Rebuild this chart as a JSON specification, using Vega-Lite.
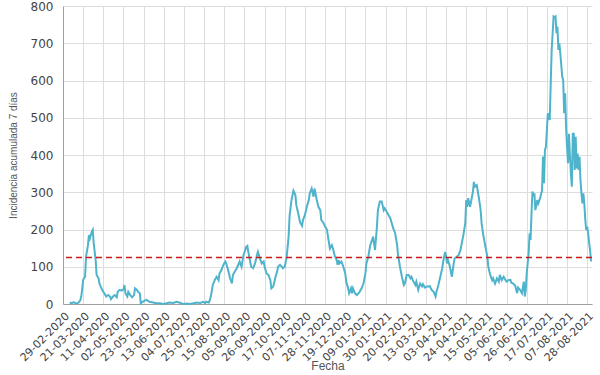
{
  "$schema": "https://vega.github.io/schema/vega-lite/v6.json",
  "width": 529,
  "height": 298,
  "autosize": {"type": "none"},
  "padding": {"left": 63, "top": 6, "right": 8, "bottom": 71},
  "background": "white",
  "config": {
    "view": {"stroke": null},
    "axis": {
      "labelFont": "DejaVu Sans",
      "labelColor": "#444444",
      "titleFont": "Liberation Sans",
      "titleFontWeight": "normal",
      "titleColor": "#555555",
      "gridColor": "#dddddd",
      "domainColor": "#a0a0a0",
      "ticks": false
    },
    "axisY": {
      "labelOverlap": false,
      "labelFontSize": 12,
      "labelPadding": 10,
      "titleFont": "Liberation Sans Narrow, Liberation Sans",
      "titleFontSize": 10,
      "titlePadding": 12
    }
  },
  "layer": [
    {
      "data": {
        "values": [
          {"fecha": "2020-03-07", "ia": 4}, {"fecha": "2020-03-09", "ia": 2}, {"fecha": "2020-03-11", "ia": 5}, {"fecha": "2020-03-13", "ia": 2},
          {"fecha": "2020-03-16", "ia": 3}, {"fecha": "2020-03-18", "ia": 10}, {"fecha": "2020-03-19", "ia": 20}, {"fecha": "2020-03-20", "ia": 40},
          {"fecha": "2020-03-21", "ia": 65}, {"fecha": "2020-03-23", "ia": 73}, {"fecha": "2020-03-24", "ia": 127}, {"fecha": "2020-03-26", "ia": 158},
          {"fecha": "2020-03-27", "ia": 185}, {"fecha": "2020-03-28", "ia": 176}, {"fecha": "2020-03-30", "ia": 194}, {"fecha": "2020-03-31", "ia": 199},
          {"fecha": "2020-04-01", "ia": 163}, {"fecha": "2020-04-03", "ia": 118}, {"fecha": "2020-04-04", "ia": 78}, {"fecha": "2020-04-06", "ia": 69},
          {"fecha": "2020-04-07", "ia": 55}, {"fecha": "2020-04-09", "ia": 42}, {"fecha": "2020-04-11", "ia": 33}, {"fecha": "2020-04-12", "ia": 29},
          {"fecha": "2020-04-14", "ia": 20}, {"fecha": "2020-04-16", "ia": 24}, {"fecha": "2020-04-18", "ia": 20}, {"fecha": "2020-04-19", "ia": 13},
          {"fecha": "2020-04-21", "ia": 20}, {"fecha": "2020-04-23", "ia": 24}, {"fecha": "2020-04-25", "ia": 18}, {"fecha": "2020-04-26", "ia": 33},
          {"fecha": "2020-04-28", "ia": 38}, {"fecha": "2020-04-30", "ia": 36}, {"fecha": "2020-05-02", "ia": 39}, {"fecha": "2020-05-03", "ia": 51},
          {"fecha": "2020-05-04", "ia": 29}, {"fecha": "2020-05-06", "ia": 20}, {"fecha": "2020-05-07", "ia": 33}, {"fecha": "2020-05-09", "ia": 24},
          {"fecha": "2020-05-11", "ia": 18}, {"fecha": "2020-05-13", "ia": 24}, {"fecha": "2020-05-14", "ia": 42}, {"fecha": "2020-05-16", "ia": 38},
          {"fecha": "2020-05-17", "ia": 33}, {"fecha": "2020-05-19", "ia": 29}, {"fecha": "2020-05-20", "ia": 2}, {"fecha": "2020-05-22", "ia": 6},
          {"fecha": "2020-05-24", "ia": 9}, {"fecha": "2020-05-26", "ia": 11}, {"fecha": "2020-05-28", "ia": 8}, {"fecha": "2020-05-29", "ia": 6},
          {"fecha": "2020-06-02", "ia": 4}, {"fecha": "2020-06-05", "ia": 2}, {"fecha": "2020-06-09", "ia": 2}, {"fecha": "2020-06-12", "ia": 0},
          {"fecha": "2020-06-16", "ia": 2}, {"fecha": "2020-06-19", "ia": 4}, {"fecha": "2020-06-23", "ia": 3}, {"fecha": "2020-06-26", "ia": 6},
          {"fecha": "2020-06-29", "ia": 4}, {"fecha": "2020-07-03", "ia": 0}, {"fecha": "2020-07-07", "ia": 1}, {"fecha": "2020-07-10", "ia": 0},
          {"fecha": "2020-07-14", "ia": 2}, {"fecha": "2020-07-17", "ia": 4}, {"fecha": "2020-07-21", "ia": 3}, {"fecha": "2020-07-24", "ia": 6},
          {"fecha": "2020-07-26", "ia": 2}, {"fecha": "2020-07-27", "ia": 6}, {"fecha": "2020-07-30", "ia": 4}, {"fecha": "2020-08-01", "ia": 20},
          {"fecha": "2020-08-03", "ia": 51}, {"fecha": "2020-08-05", "ia": 64}, {"fecha": "2020-08-07", "ia": 73}, {"fecha": "2020-08-09", "ia": 64},
          {"fecha": "2020-08-10", "ia": 82}, {"fecha": "2020-08-12", "ia": 91}, {"fecha": "2020-08-14", "ia": 105}, {"fecha": "2020-08-16", "ia": 114},
          {"fecha": "2020-08-17", "ia": 109}, {"fecha": "2020-08-19", "ia": 91}, {"fecha": "2020-08-21", "ia": 69}, {"fecha": "2020-08-23", "ia": 55},
          {"fecha": "2020-08-24", "ia": 78}, {"fecha": "2020-08-26", "ia": 87}, {"fecha": "2020-08-28", "ia": 96}, {"fecha": "2020-08-31", "ia": 114},
          {"fecha": "2020-09-02", "ia": 100}, {"fecha": "2020-09-04", "ia": 131}, {"fecha": "2020-09-07", "ia": 154}, {"fecha": "2020-09-08", "ia": 156},
          {"fecha": "2020-09-09", "ia": 140}, {"fecha": "2020-09-10", "ia": 127}, {"fecha": "2020-09-12", "ia": 100}, {"fecha": "2020-09-14", "ia": 96},
          {"fecha": "2020-09-16", "ia": 109}, {"fecha": "2020-09-18", "ia": 131}, {"fecha": "2020-09-19", "ia": 140}, {"fecha": "2020-09-21", "ia": 123},
          {"fecha": "2020-09-23", "ia": 109}, {"fecha": "2020-09-25", "ia": 114}, {"fecha": "2020-09-26", "ia": 100}, {"fecha": "2020-09-28", "ia": 82},
          {"fecha": "2020-09-30", "ia": 78}, {"fecha": "2020-10-02", "ia": 64}, {"fecha": "2020-10-03", "ia": 42}, {"fecha": "2020-10-05", "ia": 47},
          {"fecha": "2020-10-07", "ia": 69}, {"fecha": "2020-10-09", "ia": 87}, {"fecha": "2020-10-10", "ia": 100}, {"fecha": "2020-10-12", "ia": 105},
          {"fecha": "2020-10-14", "ia": 100}, {"fecha": "2020-10-15", "ia": 96}, {"fecha": "2020-10-17", "ia": 100}, {"fecha": "2020-10-19", "ia": 127},
          {"fecha": "2020-10-21", "ia": 181}, {"fecha": "2020-10-22", "ia": 236}, {"fecha": "2020-10-24", "ia": 279}, {"fecha": "2020-10-26", "ia": 304},
          {"fecha": "2020-10-28", "ia": 293}, {"fecha": "2020-10-29", "ia": 266}, {"fecha": "2020-10-31", "ia": 243}, {"fecha": "2020-11-02", "ia": 219},
          {"fecha": "2020-11-04", "ia": 210}, {"fecha": "2020-11-05", "ia": 226}, {"fecha": "2020-11-07", "ia": 239}, {"fecha": "2020-11-09", "ia": 261},
          {"fecha": "2020-11-11", "ia": 279}, {"fecha": "2020-11-12", "ia": 297}, {"fecha": "2020-11-14", "ia": 310}, {"fecha": "2020-11-16", "ia": 288},
          {"fecha": "2020-11-17", "ia": 310}, {"fecha": "2020-11-19", "ia": 284}, {"fecha": "2020-11-21", "ia": 261}, {"fecha": "2020-11-23", "ia": 252},
          {"fecha": "2020-11-24", "ia": 226}, {"fecha": "2020-11-26", "ia": 219}, {"fecha": "2020-11-28", "ia": 208}, {"fecha": "2020-11-30", "ia": 199},
          {"fecha": "2020-12-01", "ia": 181}, {"fecha": "2020-12-03", "ia": 149}, {"fecha": "2020-12-05", "ia": 158}, {"fecha": "2020-12-06", "ia": 150},
          {"fecha": "2020-12-08", "ia": 130}, {"fecha": "2020-12-10", "ia": 118}, {"fecha": "2020-12-11", "ia": 105}, {"fecha": "2020-12-12", "ia": 118},
          {"fecha": "2020-12-13", "ia": 109}, {"fecha": "2020-12-15", "ia": 114}, {"fecha": "2020-12-17", "ia": 100}, {"fecha": "2020-12-19", "ia": 82},
          {"fecha": "2020-12-20", "ia": 60}, {"fecha": "2020-12-22", "ia": 42}, {"fecha": "2020-12-23", "ia": 29}, {"fecha": "2020-12-25", "ia": 42},
          {"fecha": "2020-12-26", "ia": 29}, {"fecha": "2020-12-27", "ia": 42}, {"fecha": "2020-12-29", "ia": 29}, {"fecha": "2020-12-31", "ia": 24},
          {"fecha": "2021-01-02", "ia": 29}, {"fecha": "2021-01-03", "ia": 33}, {"fecha": "2021-01-05", "ia": 42}, {"fecha": "2021-01-07", "ia": 55},
          {"fecha": "2021-01-09", "ia": 82}, {"fecha": "2021-01-10", "ia": 109}, {"fecha": "2021-01-12", "ia": 127}, {"fecha": "2021-01-14", "ia": 158},
          {"fecha": "2021-01-16", "ia": 172}, {"fecha": "2021-01-17", "ia": 181}, {"fecha": "2021-01-19", "ia": 145}, {"fecha": "2021-01-21", "ia": 208},
          {"fecha": "2021-01-22", "ia": 252}, {"fecha": "2021-01-24", "ia": 275}, {"fecha": "2021-01-26", "ia": 275}, {"fecha": "2021-01-28", "ia": 252},
          {"fecha": "2021-01-29", "ia": 257}, {"fecha": "2021-01-31", "ia": 248}, {"fecha": "2021-02-02", "ia": 239}, {"fecha": "2021-02-04", "ia": 230},
          {"fecha": "2021-02-05", "ia": 221}, {"fecha": "2021-02-07", "ia": 203}, {"fecha": "2021-02-09", "ia": 190}, {"fecha": "2021-02-11", "ia": 158},
          {"fecha": "2021-02-12", "ia": 131}, {"fecha": "2021-02-14", "ia": 100}, {"fecha": "2021-02-16", "ia": 73}, {"fecha": "2021-02-18", "ia": 51},
          {"fecha": "2021-02-19", "ia": 55}, {"fecha": "2021-02-21", "ia": 78}, {"fecha": "2021-02-23", "ia": 78}, {"fecha": "2021-02-25", "ia": 69},
          {"fecha": "2021-02-26", "ia": 73}, {"fecha": "2021-02-28", "ia": 60}, {"fecha": "2021-03-02", "ia": 51}, {"fecha": "2021-03-03", "ia": 60},
          {"fecha": "2021-03-05", "ia": 38}, {"fecha": "2021-03-07", "ia": 55}, {"fecha": "2021-03-09", "ia": 47}, {"fecha": "2021-03-10", "ia": 53},
          {"fecha": "2021-03-12", "ia": 44}, {"fecha": "2021-03-14", "ia": 47}, {"fecha": "2021-03-16", "ia": 47}, {"fecha": "2021-03-17", "ia": 48},
          {"fecha": "2021-03-19", "ia": 38}, {"fecha": "2021-03-21", "ia": 33}, {"fecha": "2021-03-23", "ia": 20}, {"fecha": "2021-03-24", "ia": 33},
          {"fecha": "2021-03-26", "ia": 51}, {"fecha": "2021-03-28", "ia": 73}, {"fecha": "2021-03-30", "ia": 96}, {"fecha": "2021-03-31", "ia": 114},
          {"fecha": "2021-04-02", "ia": 140}, {"fecha": "2021-04-03", "ia": 127}, {"fecha": "2021-04-04", "ia": 109}, {"fecha": "2021-04-05", "ia": 118},
          {"fecha": "2021-04-07", "ia": 100}, {"fecha": "2021-04-09", "ia": 73}, {"fecha": "2021-04-11", "ia": 109}, {"fecha": "2021-04-12", "ia": 123},
          {"fecha": "2021-04-14", "ia": 127}, {"fecha": "2021-04-16", "ia": 131}, {"fecha": "2021-04-18", "ia": 145}, {"fecha": "2021-04-19", "ia": 158},
          {"fecha": "2021-04-21", "ia": 185}, {"fecha": "2021-04-23", "ia": 217}, {"fecha": "2021-04-24", "ia": 279}, {"fecha": "2021-04-25", "ia": 261},
          {"fecha": "2021-04-26", "ia": 284}, {"fecha": "2021-04-28", "ia": 261}, {"fecha": "2021-04-30", "ia": 288}, {"fecha": "2021-05-01", "ia": 302},
          {"fecha": "2021-05-02", "ia": 328}, {"fecha": "2021-05-03", "ia": 315}, {"fecha": "2021-05-05", "ia": 319}, {"fecha": "2021-05-07", "ia": 288},
          {"fecha": "2021-05-09", "ia": 252}, {"fecha": "2021-05-10", "ia": 217}, {"fecha": "2021-05-12", "ia": 181}, {"fecha": "2021-05-14", "ia": 154},
          {"fecha": "2021-05-16", "ia": 127}, {"fecha": "2021-05-17", "ia": 100}, {"fecha": "2021-05-19", "ia": 78}, {"fecha": "2021-05-21", "ia": 64},
          {"fecha": "2021-05-22", "ia": 69}, {"fecha": "2021-05-24", "ia": 55}, {"fecha": "2021-05-26", "ia": 69}, {"fecha": "2021-05-28", "ia": 60},
          {"fecha": "2021-05-29", "ia": 78}, {"fecha": "2021-05-31", "ia": 64}, {"fecha": "2021-06-02", "ia": 73}, {"fecha": "2021-06-04", "ia": 64},
          {"fecha": "2021-06-05", "ia": 60}, {"fecha": "2021-06-07", "ia": 64}, {"fecha": "2021-06-09", "ia": 65}, {"fecha": "2021-06-10", "ia": 57},
          {"fecha": "2021-06-12", "ia": 55}, {"fecha": "2021-06-14", "ia": 49}, {"fecha": "2021-06-16", "ia": 29}, {"fecha": "2021-06-17", "ia": 44},
          {"fecha": "2021-06-19", "ia": 38}, {"fecha": "2021-06-21", "ia": 29}, {"fecha": "2021-06-23", "ia": 60}, {"fecha": "2021-06-24", "ia": 20},
          {"fecha": "2021-06-25", "ia": 38}, {"fecha": "2021-06-26", "ia": 82}, {"fecha": "2021-06-28", "ia": 136}, {"fecha": "2021-06-29", "ia": 190},
          {"fecha": "2021-06-30", "ia": 172}, {"fecha": "2021-07-01", "ia": 244}, {"fecha": "2021-07-02", "ia": 302}, {"fecha": "2021-07-03", "ia": 288},
          {"fecha": "2021-07-04", "ia": 297}, {"fecha": "2021-07-05", "ia": 252}, {"fecha": "2021-07-07", "ia": 279}, {"fecha": "2021-07-08", "ia": 270},
          {"fecha": "2021-07-10", "ia": 284}, {"fecha": "2021-07-12", "ia": 306}, {"fecha": "2021-07-13", "ia": 396}, {"fecha": "2021-07-14", "ia": 324},
          {"fecha": "2021-07-15", "ia": 413}, {"fecha": "2021-07-16", "ia": 422}, {"fecha": "2021-07-17", "ia": 467}, {"fecha": "2021-07-18", "ia": 512},
          {"fecha": "2021-07-20", "ia": 494}, {"fecha": "2021-07-21", "ia": 592}, {"fecha": "2021-07-22", "ia": 682}, {"fecha": "2021-07-23", "ia": 727},
          {"fecha": "2021-07-24", "ia": 772}, {"fecha": "2021-07-25", "ia": 770}, {"fecha": "2021-07-26", "ia": 772}, {"fecha": "2021-07-27", "ia": 727},
          {"fecha": "2021-07-28", "ia": 745}, {"fecha": "2021-07-29", "ia": 682}, {"fecha": "2021-07-30", "ia": 700}, {"fecha": "2021-07-31", "ia": 673},
          {"fecha": "2021-08-02", "ia": 610}, {"fecha": "2021-08-03", "ia": 601}, {"fecha": "2021-08-04", "ia": 512}, {"fecha": "2021-08-05", "ia": 566},
          {"fecha": "2021-08-06", "ia": 476}, {"fecha": "2021-08-07", "ia": 422}, {"fecha": "2021-08-08", "ia": 378}, {"fecha": "2021-08-09", "ia": 457},
          {"fecha": "2021-08-10", "ia": 400}, {"fecha": "2021-08-11", "ia": 351}, {"fecha": "2021-08-12", "ia": 315}, {"fecha": "2021-08-13", "ia": 457},
          {"fecha": "2021-08-14", "ia": 457}, {"fecha": "2021-08-15", "ia": 360}, {"fecha": "2021-08-16", "ia": 449}, {"fecha": "2021-08-17", "ia": 364},
          {"fecha": "2021-08-18", "ia": 404}, {"fecha": "2021-08-19", "ia": 360}, {"fecha": "2021-08-20", "ia": 395}, {"fecha": "2021-08-21", "ia": 333},
          {"fecha": "2021-08-22", "ia": 297}, {"fecha": "2021-08-23", "ia": 270}, {"fecha": "2021-08-24", "ia": 297}, {"fecha": "2021-08-25", "ia": 270},
          {"fecha": "2021-08-26", "ia": 226}, {"fecha": "2021-08-27", "ia": 199}, {"fecha": "2021-08-28", "ia": 208}, {"fecha": "2021-08-29", "ia": 190},
          {"fecha": "2021-08-30", "ia": 165}, {"fecha": "2021-08-31", "ia": 145}, {"fecha": "2021-09-01", "ia": 114}
        ]
      },
      "mark": {"type": "line", "color": "#4fb3cc", "strokeWidth": 2},
      "encoding": {
        "x": {
          "field": "fecha",
          "type": "temporal",
          "scale": {
            "type": "utc",
            "domain": [
              {"year": 2020, "month": 2, "date": 29, "utc": true},
              {"year": 2021, "month": 9, "date": 2, "utc": true}
            ]
          },
          "axis": {
            "title": "Fecha",
            "titleFontSize": 12,
            "titleY": 65,
            "titleBaseline": "alphabetic",
            "format": "%d-%m-%Y",
            "labelAngle": -45,
            "labelFontSize": 11,
            "labelOverlap": false,
            "labelFlush": false,
            "labelBound": false,
            "labelPadding": 6,
            "grid": true,
            "values": [
              {"year": 2020, "month": 2, "date": 29, "utc": true},
              {"year": 2020, "month": 3, "date": 21, "utc": true},
              {"year": 2020, "month": 4, "date": 11, "utc": true},
              {"year": 2020, "month": 5, "date": 2, "utc": true},
              {"year": 2020, "month": 5, "date": 23, "utc": true},
              {"year": 2020, "month": 6, "date": 13, "utc": true},
              {"year": 2020, "month": 7, "date": 4, "utc": true},
              {"year": 2020, "month": 7, "date": 25, "utc": true},
              {"year": 2020, "month": 8, "date": 15, "utc": true},
              {"year": 2020, "month": 9, "date": 5, "utc": true},
              {"year": 2020, "month": 9, "date": 26, "utc": true},
              {"year": 2020, "month": 10, "date": 17, "utc": true},
              {"year": 2020, "month": 11, "date": 7, "utc": true},
              {"year": 2020, "month": 11, "date": 28, "utc": true},
              {"year": 2020, "month": 12, "date": 19, "utc": true},
              {"year": 2021, "month": 1, "date": 9, "utc": true},
              {"year": 2021, "month": 1, "date": 30, "utc": true},
              {"year": 2021, "month": 2, "date": 20, "utc": true},
              {"year": 2021, "month": 3, "date": 13, "utc": true},
              {"year": 2021, "month": 4, "date": 3, "utc": true},
              {"year": 2021, "month": 4, "date": 24, "utc": true},
              {"year": 2021, "month": 5, "date": 15, "utc": true},
              {"year": 2021, "month": 6, "date": 5, "utc": true},
              {"year": 2021, "month": 6, "date": 26, "utc": true},
              {"year": 2021, "month": 7, "date": 17, "utc": true},
              {"year": 2021, "month": 8, "date": 7, "utc": true},
              {"year": 2021, "month": 8, "date": 28, "utc": true}
            ]
          }
        },
        "y": {
          "field": "ia",
          "type": "quantitative",
          "scale": {"domain": [0, 800], "nice": false},
          "axis": {
            "title": "Incidencia acumulada 7 días",
            "values": [0, 100, 200, 300, 400, 500, 600, 700, 800],
            "tickCount": 9,
            "labelOverlap": false,
            "grid": true
          }
        }
      }
    },
    {
      "data": {"values": [{"umbral": 125}]},
      "mark": {"type": "rule", "color": "#cc1a1a", "strokeDash": [6, 4], "strokeWidth": 1.5},
      "encoding": {
        "y": {
          "field": "umbral",
          "type": "quantitative",
          "axis": {
            "title": "Incidencia acumulada 7 días",
            "values": [0, 100, 200, 300, 400, 500, 600, 700, 800],
            "tickCount": 9,
            "labelOverlap": false,
            "grid": true
          }
        }
      }
    }
  ]
}
